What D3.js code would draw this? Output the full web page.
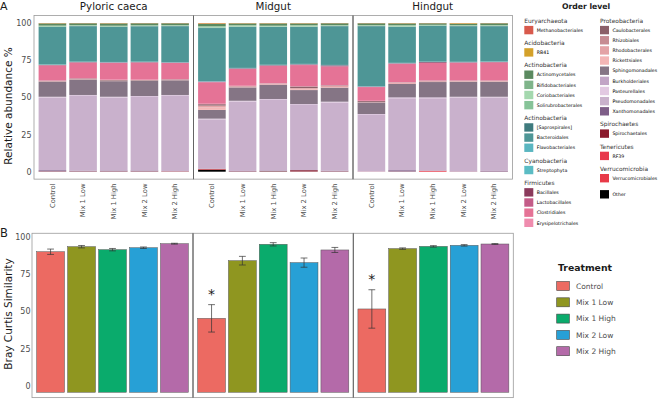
<!DOCTYPE html>
<html><head><meta charset="utf-8">
<script src="https://cdn.jsdelivr.net/npm/d3@7"></script>
<style>body{margin:0;background:#fff}svg{display:block;font-family:"DejaVu Sans",Verdana,sans-serif}</style>
</head><body>
<svg id="c" width="658" height="400"></svg>
<script>
// ---------- categories ----------
const sites = ["Pyloric caeca", "Midgut", "Hindgut"];
const treatments = ["Control", "Mix 1 Low", "Mix 1 High", "Mix 2 Low", "Mix 2 High"];
const yTicks = [0, 25, 50, 75, 100];

// ---------- panel A: relative abundance (%) per order; 15 bars = 3 sites x 5 treatments ----------
const methanobacteriales = [0.1,0.1,0.1,0.1,0.1, 0.2,0.1,0.1,0.1,0.1, 0.1,0.1,0.1,0.1,0.1];
const rb41               = [0.2,0.1,0.2,0.1,0.1, 0.4,0.2,0.2,0.2,0.1, 0.1,0.2,0.1,0.4,0.1];
const actinomycetales    = [1.4,1.2,1.5,1.3,1.2, 1.5,1.2,1.5,1.2,1.2, 1.2,1.2,1.0,0.9,1.2];
const bifidobacteriales  = [0.3,0.2,0.3,0.2,0.2, 0.4,0.2,0.2,0.2,0.2, 0.2,0.2,0.2,0.2,0.2];
const coriobacteriales   = [0.2,0.2,0.2,0.2,0.2, 0.4,0.6,0.3,0.6,0.2, 0.2,0.6,0.2,0.2,0.2];
const solirubrobacterales= [0.3,0.2,0.2,0.2,0.2, 0.3,0.2,0.2,0.2,0.2, 0.2,0.2,0.2,0.2,0.2];
const saprospirales      = [0.2,0.2,0.2,0.2,0.2, 0.2,0.2,0.1,0.2,0.2, 0.2,0.2,0.2,0.2,0.2];
const bacteroidales      = [25.2,23.8,23.5,23.7,24.1, 35.6,27.5,25.5,24.8,26.0, 40.3,24.1,24.0,23.9,23.7];
const flavobacteriales   = [0.2,0.2,0.2,0.2,0.2, 0.2,0.2,0.2,0.2,0.2, 0.2,0.2,0.2,0.2,0.2];
const streptophyta       = [0.1,0.1,0.1,0.1,0.1, 0.2,0.1,0.1,0.1,0.1, 0.1,0.1,0.1,0.1,0.1];
const bacillales         = [0.2,0.2,0.2,0.2,0.2, 0.3,0.3,0.3,0.3,0.6, 0.2,0.2,0.5,0.2,0.2];
const lactobacillales    = [0.2,0.1,0.1,0.1,0.1, 0.2,0.1,0.1,0.2,0.2, 0.1,0.1,0.1,0.1,0.1];
const clostridiales      = [10.0,10.5,11.3,11.5,10.8, 14.4,11.3,11.6,14.2,12.4, 9.2,12.3,11.7,11.9,12.1];
const erysipelotrichales = [0.2,0.2,0.2,0.2,0.2, 0.3,0.2,0.2,0.2,0.2, 0.2,0.2,0.2,0.2,0.2];
const caulobacterales    = [0.3,0.4,0.4,0.3,0.3, 0.9,0.1,0.1,1.0,0.3, 0.6,0.1,0.3,0.2,0.2];
const rhizobiales        = [0.2,0.1,0.2,0.1,0.1, 0.3,0.1,0.1,0.2,0.2, 0.1,0.2,0.1,0.1,0.1];
const rhodobacterales    = [0.1,0.1,0.1,0.1,0.1, 1.0,0.6,0.6,0.8,0.9, 0.1,0.7,0.4,0.3,0.3];
const rickettsiales      = [0.1,0.1,0.1,0.1,0.1, 1.6,0.1,0.1,0.4,0.2, 0.1,0.1,0.1,0.1,0.1];
const sphingomonadales   = [10.1,10.4,10.5,10.2,9.9, 5.9,9.0,9.6,9.4,9.4, 7.8,9.0,10.3,10.1,10.1];
const burkholderiales    = [0.3,0.3,0.3,0.3,0.3, 0.3,0.3,0.3,0.3,0.3, 0.3,0.3,0.3,0.3,0.3];
const pasteurellales     = [0.3,0.3,0.3,0.3,0.3, 0.2,0.3,0.3,0.3,0.3, 0.3,0.3,0.3,0.3,0.3];
const pseudomonadales    = [48.8,50.3,49.0,49.5,50.6, 33.2,46.6,47.5,43.8,45.8, 38.0,48.4,48.6,49.5,49.3];
const xanthomonadales    = [0.7,0.4,0.5,0.5,0.1, 0.1,0.2,0.4,0.1,0.4, 0.1,0.8,0.2,0.2,0.4];
const spirochaetales     = [0.1,0.1,0.1,0.1,0.0, 0.1,0.1,0.1,0.8,0.1, 0.0,0.0,0.0,0.0,0.0];
const rf39               = [0.0,0.0,0.0,0.0,0.0, 0.0,0.0,0.0,0.0,0.0, 0.0,0.0,0.1,0.0,0.0];
const verrucomicrobiales = [0.1,0.1,0.1,0.1,0.2, 0.4,0.1,0.1,0.1,0.1, 0.1,0.1,0.5,0.1,0.1];
const other              = [0.1,0.1,0.1,0.1,0.1, 1.4,0.1,0.2,0.1,0.1, 0.0,0.1,0.0,0.0,0.0];

// order names (legend order = top of stack first) and their colours
const orderNames = ["Methanobacteriales","RB41","Actinomycetales","Bifidobacteriales","Coriobacteriales","Solirubrobacterales",
  "[Saprospirales]","Bacteroidales","Flavobacteriales","Streptophyta","Bacillales","Lactobacillales","Clostridiales",
  "Erysipelotrichales","Caulobacterales","Rhizobiales","Rhodobacterales","Rickettsiales","Sphingomonadales",
  "Burkholderiales","Pasteurellales","Pseudomonadales","Xanthomonadales","Spirochaetales","RF39","Verrucomicrobiales","Other"];
const orderColors = ["#d85a4c","#d4a12a","#5b8a60","#7fb48a","#a4d8ae","#86c398",
  "#3f7b7e","#4e9696","#5ab6c0","#5bbcc4","#8b3a5c","#c45c88","#e57396",
  "#ef8cae","#8b6068","#c68c92","#e3a3a6","#f3b6b6","#857585",
  "#c2a5c6","#e2c9e2","#c9b1cc","#7e5e88","#8b1a2c","#e8384c","#e83a48","#000000"];

// legend groups (phylum headers)
const legendCol1 = [
  ["Euryarchaeota", ["Methanobacteriales"]],
  ["Acidobacteria", ["RB41"]],
  ["Actinobacteria", ["Actinomycetales","Bifidobacteriales","Coriobacteriales","Solirubrobacterales"]],
  ["Actinobacteria", ["[Saprospirales]","Bacteroidales","Flavobacteriales"]],
  ["Cyanobacteria", ["Streptophyta"]],
  ["Firmicutes", ["Bacillales","Lactobacillales","Clostridiales","Erysipelotrichales"]]
];
const legendCol2 = [
  ["Proteobacteria", ["Caulobacterales","Rhizobiales","Rhodobacterales","Rickettsiales","Sphingomonadales","Burkholderiales","Pasteurellales","Pseudomonadales","Xanthomonadales"]],
  ["Spirochaetes", ["Spirochaetales"]],
  ["Tenericutes", ["RF39"]],
  ["Verrucomicrobia", ["Verrucomicrobiales"]],
  ["", ["Other"]]
];

// ---------- panel B: Bray Curtis similarity ----------
const bcMean = [89.9,93.3,91.3,92.6,95.3, 45.2,83.9,94.9,82.6,91.1, 51.5,92.0,93.5,94.2,95.1];
const bcErr  = [1.8,0.8,0.8,0.5,0.3, 9.2,2.9,1.1,3.1,1.7, 12.9,0.5,0.5,0.5,0.3];
const bcSig  = ["","","","","", "*","","","","", "*","","","",""];
const treatmentColors = ["#ec6a62","#8f9620","#0aab6c","#27a0d6","#b46aa9"];

// ---------- build table ----------
const orderValues = [methanobacteriales,rb41,actinomycetales,bifidobacteriales,coriobacteriales,solirubrobacterales,
  saprospirales,bacteroidales,flavobacteriales,streptophyta,bacillales,lactobacillales,clostridiales,
  erysipelotrichales,caulobacterales,rhizobiales,rhodobacterales,rickettsiales,sphingomonadales,
  burkholderiales,pasteurellales,pseudomonadales,xanthomonadales,spirochaetales,rf39,verrucomicrobiales,other];
const rows = [];
sites.forEach((s, si) => treatments.forEach((t, ti) => {
  const i = si * 5 + ti;
  const r = {site: s, treatment: t, idx: i};
  orderNames.forEach((o, k) => r[o] = orderValues[k][i]);
  rows.push(r);
}));
const colorOf = d3.scaleOrdinal().domain(orderNames).range(orderColors);
const tColor = d3.scaleOrdinal().domain(treatments).range(treatmentColors);

const svg = d3.select("#c");
const FONT_DARK = "#1a1a1a", FONT_GREY = "#4d4d4d";

// ---------- layout ----------
const panelsA = [[34, 193.5], [193.5, 353], [353, 512.5]];
const panelsB = [[32, 193], [193, 353.3], [353.3, 513.3]];
const yA = d3.scaleLinear().domain([0, 100]).range([171.7, 23]);
const yB = d3.scaleLinear().domain([0, 100]).range([385.7, 236.7]);
const bPanelTop = 102.3, bPanelBottom = -8, bBarBase = -4.4;

const xA = panelsA.map(r => d3.scaleBand().domain(treatments).range(r).paddingInner(0.1).paddingOuter(0.15));
const xB = panelsB.map(r => d3.scaleBand().domain(treatments).range(r).paddingInner(0.1).paddingOuter(0.15));

// ---------- panel A ----------
const stack = d3.stack().keys(orderNames.slice().reverse());
const series = stack(rows);
const gA = svg.append("g");
series.forEach(layer => {
  gA.append("g").attr("fill", colorOf(layer.key))
    .selectAll("rect").data(layer).join("rect")
    .attr("x", d => xA[sites.indexOf(d.data.site)](d.data.treatment))
    .attr("width", xA[0].bandwidth())
    .attr("y", d => yA(d[1]))
    .attr("height", d => Math.max(0, yA(d[0]) - yA(d[1])));
});
// panel frames A
panelsA.forEach((r, i) => {
  svg.append("rect").attr("x", r[0]).attr("y", yA(105)).attr("width", r[1] - r[0]).attr("height", yA(-5) - yA(105))
    .attr("fill", "none").attr("stroke", "#9a9a9a").attr("stroke-width", 0.8);
  svg.append("text").attr("x", (r[0] + r[1]) / 2).attr("y", 9.5).attr("text-anchor", "middle")
    .attr("font-size", 10.3).attr("fill", FONT_DARK).text(sites[i]);
});
[panelsA[1][0], panelsA[2][0]].forEach(x => svg.append("line").attr("x1", x).attr("x2", x)
  .attr("y1", yA(105)).attr("y2", yA(-5)).attr("stroke", "#555").attr("stroke-width", 0.8));

const axA = svg.append("g").attr("transform", `translate(${panelsA[0][0]},0)`)
  .call(d3.axisLeft(yA).tickValues(yTicks).tickSize(0).tickPadding(2.5));
axA.select(".domain").remove();
axA.selectAll("text").attr("font-size", 8).attr("fill", FONT_GREY).attr("font-family", "DejaVu Sans");

// x labels (rotated) under panel A
sites.forEach((s, si) => treatments.forEach(t => {
  const cx = xA[si](t) + xA[si].bandwidth() / 2;
  svg.append("text").attr("transform", `translate(${cx + 2.4},183.5) rotate(-90)`)
    .attr("text-anchor", "end").attr("font-size", 6.8).attr("fill", FONT_GREY).text(t);
}));

svg.append("text").attr("transform", `translate(11.8,106) rotate(-90)`).attr("text-anchor", "middle")
  .attr("font-size", 10.5).attr("fill", FONT_DARK).text("Relative abundance %");
svg.append("text").attr("x", 0).attr("y", 9.5).attr("font-size", 11).attr("fill", FONT_DARK).text("A");

// ---------- panel B ----------
const gB = svg.append("g");
gB.selectAll("rect.bar").data(rows).join("rect").attr("class", "bar")
  .attr("x", d => xB[sites.indexOf(d.site)](d.treatment))
  .attr("width", xB[0].bandwidth())
  .attr("y", d => yB(bcMean[d.idx]))
  .attr("height", d => yB(bBarBase) - yB(bcMean[d.idx]))
  .attr("fill", d => tColor(d.treatment))
  .attr("stroke", "#555").attr("stroke-width", 0.5);
// error bars
const eb = gB.selectAll("g.err").data(rows).join("g").attr("class", "err")
  .attr("stroke", "#333").attr("stroke-width", 0.7);
eb.each(function(d) {
  const g = d3.select(this);
  const cx = xB[sites.indexOf(d.site)](d.treatment) + xB[0].bandwidth() / 2;
  const hi = yB(bcMean[d.idx] + bcErr[d.idx]), lo = yB(bcMean[d.idx] - bcErr[d.idx]);
  g.append("line").attr("x1", cx).attr("x2", cx).attr("y1", hi).attr("y2", lo);
  g.append("line").attr("x1", cx - 3.4).attr("x2", cx + 3.4).attr("y1", hi).attr("y2", hi);
  g.append("line").attr("x1", cx - 3.4).attr("x2", cx + 3.4).attr("y1", lo).attr("y2", lo);
});
// significance
gB.selectAll("text.sig").data(rows.filter(d => bcSig[d.idx])).join("text").attr("class", "sig")
  .attr("x", d => xB[sites.indexOf(d.site)](d.treatment) + xB[0].bandwidth() / 2)
  .attr("y", d => yB(bcMean[d.idx] + bcErr[d.idx] + 9) + 8)
  .attr("text-anchor", "middle").attr("font-size", 14).attr("fill", FONT_DARK)
  .text(d => bcSig[d.idx]);

panelsB.forEach(r => {
  svg.append("rect").attr("x", r[0]).attr("y", yB(bPanelTop)).attr("width", r[1] - r[0])
    .attr("height", yB(bPanelBottom) - yB(bPanelTop))
    .attr("fill", "none").attr("stroke", "#9a9a9a").attr("stroke-width", 0.8);
});
[panelsB[1][0], panelsB[2][0]].forEach(x => svg.append("line").attr("x1", x).attr("x2", x)
  .attr("y1", yB(bPanelTop)).attr("y2", yB(bPanelBottom)).attr("stroke", "#555").attr("stroke-width", 0.8));

const axB = svg.append("g").attr("transform", `translate(${panelsB[0][0]},0)`)
  .call(d3.axisLeft(yB).tickValues(yTicks).tickSize(0).tickPadding(1.5));
axB.select(".domain").remove();
axB.selectAll("text").attr("font-size", 8).attr("fill", FONT_GREY).attr("font-family", "DejaVu Sans");

svg.append("text").attr("transform", `translate(12,314) rotate(-90)`).attr("text-anchor", "middle")
  .attr("font-size", 10.5).attr("fill", FONT_DARK).text("Bray Curtis Similarity");
svg.append("text").attr("x", 0).attr("y", 237).attr("font-size", 11.5).attr("fill", FONT_DARK).text("B");

// ---------- Order legend ----------
svg.append("text").attr("x", 586).attr("y", 8.6).attr("text-anchor", "middle")
  .attr("font-size", 7.7).attr("font-weight", "bold").attr("fill", FONT_DARK).text("Order level");
function drawLegendCol(groups, x0) {
  let y = 20.7, prev = null;
  groups.forEach(([head, items]) => {
    if (prev === "item") y += 12.9;
    if (head) {
      svg.append("text").attr("x", x0).attr("y", y + 2.1).attr("font-size", 5.9).attr("fill", "#333").text(head);
      y += 9.4;
    } else { y += 3.2; }
    items.forEach((it, k) => {
      if (k > 0) y += 10.15;
      svg.append("rect").attr("x", x0).attr("y", y - 4.2).attr("width", 9).attr("height", 8.4)
        .attr("fill", colorOf(it));
      svg.append("text").attr("x", x0 + 12.4).attr("y", y + 1.7).attr("font-size", 4.7).attr("fill", "#000").text(it);
    });
    prev = "item";
  });
}
drawLegendCol(legendCol1, 524.3);
drawLegendCol(legendCol2, 600);

// ---------- Treatment legend ----------
svg.append("text").attr("x", 558).attr("y", 270.5).attr("font-size", 9.3).attr("font-weight", "bold")
  .attr("fill", FONT_DARK).text("Treatment");
treatments.forEach((t, i) => {
  const cy = 286 + i * 16.3;
  svg.append("rect").attr("x", 556.7).attr("y", cy - 4.5).attr("width", 12.7).attr("height", 9)
    .attr("fill", tColor(t)).attr("stroke", "#444").attr("stroke-width", 0.6);
  svg.append("text").attr("x", 576).attr("y", cy + 2.7).attr("font-size", 7.5).attr("fill", FONT_GREY).text(t);
});
</script>
</body></html>
